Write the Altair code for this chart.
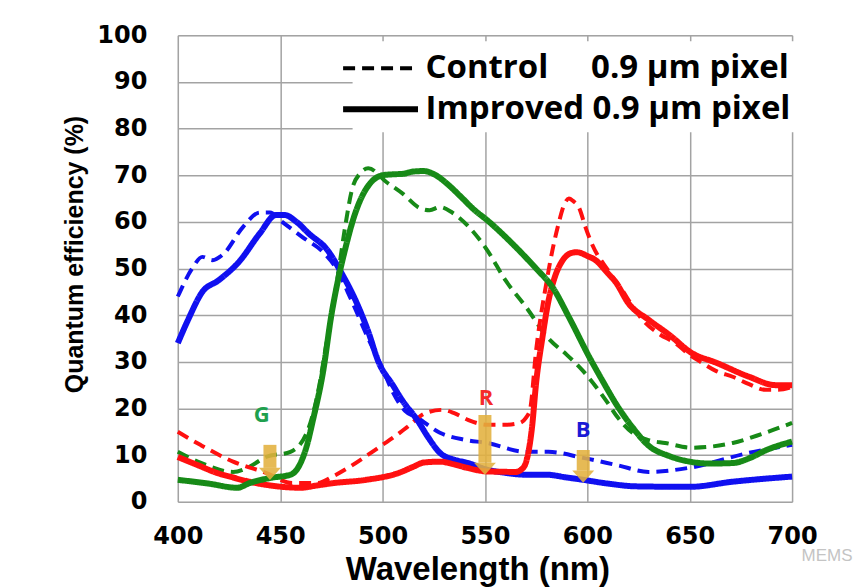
import altair as alt
import pandas as pd

# ---------------- data ----------------
wl_b_imp = [400, 405, 412, 420, 430, 440, 448, 452, 458, 464, 473, 480, 487, 493, 498, 505, 510, 517, 522, 528, 535, 541, 551, 560, 570, 580, 590, 598, 610, 624, 650, 671, 700]
qe_b_imp = [34, 39, 45, 47.5, 51.5, 57.5, 61.5, 61.5, 60, 57.5, 54, 49, 43, 36.5, 30, 25, 21.5, 17.5, 14, 10.5, 9, 8.4, 6.9, 6.2, 5.8, 5.8, 5.2, 4.7, 3.9, 3.3, 3.2, 4.3, 5.4]

wl_b_ctl = [400, 407, 412, 417, 422, 432, 440, 445, 451, 461, 471, 477, 485, 493, 500, 505, 511, 517, 528, 540, 551, 570, 581, 598, 615, 630, 650, 679, 700]
qe_b_ctl = [44, 50, 52.5, 51.8, 53, 59, 62, 62, 60, 56.7, 53.5, 50.3, 43, 35, 28.5, 23.5, 19.5, 18, 14.8, 13.3, 12.6, 10.7, 10.7, 9.4, 7.8, 6.4, 7.3, 10.5, 12.2]

wl_g_imp = [400, 415, 429, 435, 445, 455, 459, 463, 466, 471, 475, 478, 482, 486, 490, 494, 500, 505, 510, 515, 520, 526, 532, 538, 545, 551, 563, 575, 583, 591, 601, 608, 614, 622, 630, 640, 650, 660, 671, 680, 687, 700]
qe_g_imp = [4.7, 3.9, 3, 4, 5.1, 5.8, 7.5, 12, 17.5, 28, 40, 47, 54.6, 61, 65.5, 68.3, 70, 70.2, 70.3, 70.8, 70.9, 70, 68, 65.5, 62.5, 60.4, 55.5, 50, 46, 39.6, 31, 25.5, 21, 16, 12, 9.8, 8.6, 8.2, 8.3, 9.5, 11, 12.9]

wl_g_ctl = [400, 411, 427, 435, 443, 455, 463, 468, 473, 478, 482, 485, 489, 493, 502, 510, 518, 523, 528, 534, 542, 551, 560, 570, 581, 590, 598, 609, 615, 622, 630, 638, 651, 660, 671, 685, 700]
qe_g_ctl = [10.7, 8.4, 6.4, 7.5, 9.6, 10.7, 14.8, 22.5, 35, 48, 59.7, 66.8, 70.4, 71.5, 68.5, 66, 63, 62.5, 63.2, 62, 59, 54, 47.5, 41.8, 35, 31.5, 28, 21.8, 18, 14.8, 13.2, 12.6, 11.6, 11.8, 12.6, 14.5, 16.9]

wl_r_imp = [400, 410, 419, 427, 435, 451, 460, 468, 476, 492, 508, 515, 520, 528, 535, 541, 551, 565, 568, 570, 573, 575, 578, 581, 584, 588, 592, 595, 600, 604, 610, 614, 620, 630, 640, 651, 663, 679, 692, 700]
qe_r_imp = [9.6, 7.8, 6.2, 5.2, 4.3, 3.2, 3, 3.5, 4, 4.7, 6.2, 7.5, 8.4, 8.6, 8, 7.3, 6.5, 6.4, 7, 8.4, 16, 25.5, 35, 43, 48, 51.8, 53.3, 53.5, 52.7, 51.8, 49, 47, 42.6, 39, 35.8, 31.9, 29.8, 26.8, 25, 25]

wl_r_ctl = [400, 411, 427, 443, 456, 468, 476, 484, 492, 500, 506, 512, 521, 529, 535, 542, 551, 560, 567, 570, 572, 575, 580, 583, 586, 589, 591, 593, 596, 599, 602, 610, 617, 622, 627, 635, 643, 650, 656, 663, 671, 679, 687, 693, 700]
qe_r_ctl = [15, 12.2, 8.6, 6.2, 4, 4, 5.5, 7.5, 9.8, 12.2, 14, 16, 19, 19.7, 19, 17.5, 16.5, 16.5, 16.9, 18, 19.7, 32.5, 46.9, 54, 59.7, 64, 65, 64.5, 63, 59, 55.5, 49.7, 45.4, 42, 39, 36, 34, 31.5, 29.8, 28, 26.8, 25.2, 24, 24, 24.6]

bands = ["Blue", "Green", "Red"]
types = ["Control", "Improved"]
x_ticks = [400, 450, 500, 550, 600, 650, 700]
y_ticks = [0, 10, 20, 30, 40, 50, 60, 70, 80, 90, 100]

# filter letters and their arrows
letter_text = ["G", "R", "B"]
letter_wl = [441, 550.5, 598]
letter_qe = [18.6, 22.3, 15.4]
arrow_wl = [445, 550, 598]
arrow_top = [12.2, 18.6, 11.1]
arrow_tip = [4.7, 5.8, 4.1]

# ---------------- styles ----------------
band_colors = ["#1010F0", "#178A17", "#FF1010"]
letter_colors = ["#1FA04E", "#F52A2A", "#1A1AD6"]
grid_color = "#a3a3a3"
arrow_color = "#E2B13E"
PX_PER_PCT = 467 / 100.0
head_len = 12 / PX_PER_PCT

series = [
    ("Blue", "Control", wl_b_ctl, qe_b_ctl),
    ("Green", "Control", wl_g_ctl, qe_g_ctl),
    ("Red", "Control", wl_r_ctl, qe_r_ctl),
    ("Blue", "Improved", wl_b_imp, qe_b_imp),
    ("Red", "Improved", wl_r_imp, qe_r_imp),
    ("Green", "Improved", wl_g_imp, qe_g_imp),
]
rows = []
for i, (band, typ, xs, ys) in enumerate(series):
    for x, y in zip(xs, ys):
        rows.append({"band": band, "type": typ, "series": f"{i}_{band}_{typ}", "wl": x, "qe": y})
df = pd.DataFrame(rows)

x_scale = alt.Scale(domain=[400, 700], nice=False, zero=False)
y_scale = alt.Scale(domain=[0, 100], nice=False)

nb = "\u00a0"
legend = alt.Legend(
    title=None, orient="none", legendX=175, legendY=6,
    symbolType="M-2,0L2,0", symbolSize=1406, symbolStrokeColor="black",
    labelFont="Open Sans", labelFontWeight="bold", labelFontSize=33, labelColor="black",
    labelLimit=600, labelOffset=23, fillColor="white", padding=6, rowPadding=2,
    labelExpr="datum.label == 'Control' ? 'Control" + nb * 5 + "0.9 μm pixel' : 'Improved 0.9 μm pixel'",
)

lines = alt.Chart(df).mark_line(interpolate="monotone", strokeCap="butt", strokeJoin="round").encode(
    x=alt.X("wl:Q", scale=x_scale, axis=alt.Axis(
        values=x_ticks, title="Wavelength (nm)", grid=True, gridColor=grid_color, gridWidth=1.5,
        domain=False, ticks=False, labelFlush=False, labelFont="DejaVu Sans", labelFontWeight="bold",
        labelFontSize=24, labelColor="black", labelPadding=23, titleFont="Liberation Sans",
        titleFontWeight="bold", titleFontSize=33, titleColor="black", titleX=300, titleY=78,
        titleBaseline="alphabetic")),
    y=alt.Y("qe:Q", scale=y_scale, axis=alt.Axis(
        values=y_ticks, title="Quantum efficiency (%)", grid=True, gridColor=grid_color, gridWidth=1.5,
        domain=False, ticks=False, labelFlush=False, labelFont="DejaVu Sans", labelFontWeight="bold",
        labelFontSize=24, labelColor="black", labelPadding=31, titleFont="Liberation Sans",
        titleFontWeight="bold", titleFontSize=25, titleColor="black", titleX=-103, titleY=219,
        titleAngle=-90, titleAlign="center", titleBaseline="middle")),
    color=alt.Color("band:N", scale=alt.Scale(domain=bands, range=band_colors), legend=None),
    strokeDash=alt.StrokeDash("type:N", scale=alt.Scale(domain=types, range=[[12, 7], [1, 0]]), legend=legend),
    strokeWidth=alt.StrokeWidth("type:N", scale=alt.Scale(domain=types, range=[4, 6]), legend=legend),
    detail="series:N",
)

letters_df = pd.DataFrame({"wl": letter_wl, "qe": letter_qe, "t": letter_text, "c": letter_colors})
letters = alt.Chart(letters_df).mark_text(font="Open Sans", fontWeight="bold", fontSize=22, baseline="middle").encode(
    x="wl:Q", y="qe:Q", text="t:N", color=alt.Color("c:N", scale=None))

arrows_df = pd.DataFrame({"wl": arrow_wl, "top": arrow_top, "tip": arrow_tip})
arrows_df["base"] = arrows_df["tip"] + head_len
arrows_df["mid"] = arrows_df["tip"] + head_len / 2
shafts = alt.Chart(arrows_df).mark_rule(color=arrow_color, strokeWidth=13, opacity=0.88, strokeCap="butt").encode(
    x="wl:Q", y="top:Q", y2="base:Q")
heads = alt.Chart(arrows_df).mark_point(
    shape="M-1,-0.55L1,-0.55L0,0.55Z", filled=True, size=484, color=arrow_color, opacity=0.88, strokeWidth=0
).encode(x="wl:Q", y="mid:Q")

wm = alt.Chart(pd.DataFrame({"t": ["MEMS"]})).mark_text(
    font="Liberation Sans", fontSize=17, color="#c4c4c4", align="center", baseline="middle"
).encode(x=alt.value(650), y=alt.value(521), text="t:N")

chart = alt.layer(lines, shafts, heads, letters, wm).properties(
    width=615, height=467,
    autosize=alt.AutoSizeParams(type="none"),
    padding={"left": 170, "top": 27, "right": 65, "bottom": 85},
).configure_view(stroke=grid_color, strokeWidth=1.5).configure(background="white")

chart.save("out.html", embed_options={"renderer": "svg", "actions": False})
